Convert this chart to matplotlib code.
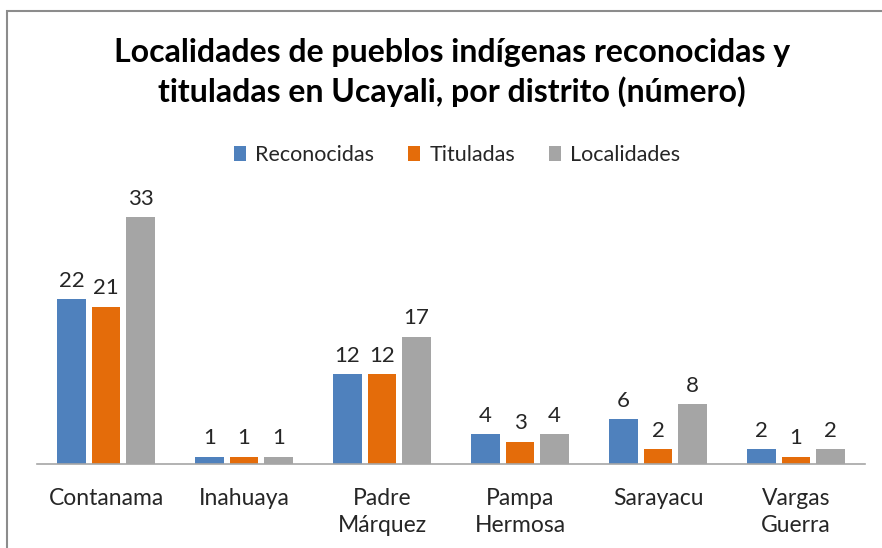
import matplotlib
matplotlib.use("Agg")
import matplotlib.pyplot as plt
import numpy as np
from matplotlib.patches import Rectangle

plt.rcParams['font.family'] = ['Lato', 'DejaVu Sans']

distritos = ["Contanama", "Inahuaya", "Padre\nMárquez", "Pampa\nHermosa", "Sarayacu", "Vargas\nGuerra"]
reconocidas = [22, 1, 12, 4, 6, 2]
tituladas = [21, 1, 12, 3, 2, 1]
localidades = [33, 1, 17, 4, 8, 2]

series = [("Reconocidas", reconocidas, "#4F81BD"),
          ("Tituladas", tituladas, "#E46C0A"),
          ("Localidades", localidades, "#A5A5A5")]

W, H = 882, 548
fig = plt.figure(figsize=(W / 100, H / 100), dpi=100)

# marco del grafico
fig.patches.append(Rectangle((7 / W, -0.05), 1.2, (H - 11) / H + 0.05, transform=fig.transFigure,
                             fill=False, edgecolor="#8C8C8C", linewidth=1.5))

ax = fig.add_axes([37 / W, (H - 464) / H, (865 - 37) / W, (464 - 190) / H])
x = np.arange(len(distritos))
ancho = 0.21
paso = 0.25
for i, (nombre, vals, color) in enumerate(series):
    barras = ax.bar(x + (i - 1) * paso, vals, ancho, color=color, label=nombre)
    ax.bar_label(barras, padding=6, fontsize=16, color="#262626")

ax.set_xlim(-0.5, len(distritos) - 0.5)
ax.set_ylim(0, 36.6)
ax.set_yticks([])
for s in ["top", "right", "left"]:
    ax.spines[s].set_visible(False)
ax.spines["bottom"].set_color("#A6A6A6")
ax.spines["bottom"].set_linewidth(1.2)
ax.set_xticks(x)
ax.set_xticklabels(distritos, fontsize=16.5, color="#262626", linespacing=1.35)
ax.tick_params(axis="x", length=0, pad=17)

fig.text(452 / W, (H - 62) / H, "Localidades de pueblos indígenas reconocidas y",
         ha="center", va="baseline", fontsize=23, fontweight="bold", color="black")
fig.text(452 / W, (H - 102) / H, "tituladas en Ucayali, por distrito (número)",
         ha="center", va="baseline", fontsize=23, fontweight="bold", color="black")

fig.legend(loc="center", bbox_to_anchor=(457 / W, (H - 155) / H), ncol=3, frameon=False,
           fontsize=15.5, handlelength=0.56, handleheight=0.65, columnspacing=1.55, handletextpad=0.45,
           labelcolor="#262626")

fig.savefig("out.png", dpi=100)
